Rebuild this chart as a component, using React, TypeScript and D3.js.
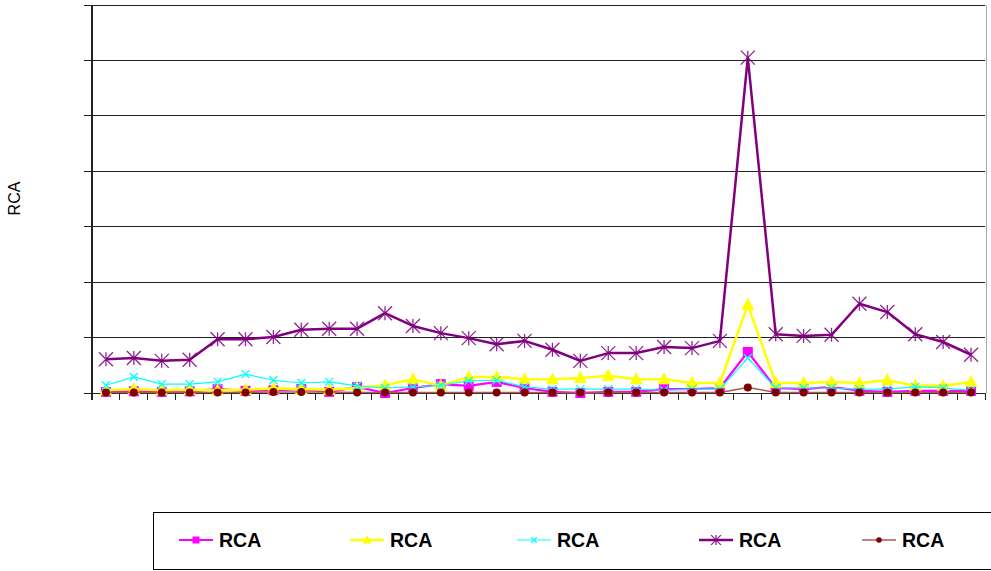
import React from 'react';
import * as d3 from 'd3';

// 32 categories, no labels shown on the x axis
const categories = d3.range(32).map(i => `c${i + 1}`);

const magentaValues = [0.02, 0.03, 0.02, 0.03, 0.07, 0.04, 0.05, 0.07, 0.02, 0.11, 0.0, 0.09, 0.16, 0.13, 0.2, 0.09,
  0.02, 0.0, 0.02, 0.02, 0.07, 0.07, 0.09, 0.74, 0.09, 0.07, 0.11, 0.04, 0.02, 0.04, 0.04, 0.04];
const yellowValues = [0.05, 0.07, 0.05, 0.06, 0.05, 0.06, 0.08, 0.07, 0.06, 0.09, 0.14, 0.25, 0.13, 0.29, 0.29, 0.25,
  0.25, 0.27, 0.31, 0.25, 0.25, 0.18, 0.18, 1.59, 0.18, 0.18, 0.2, 0.18, 0.23, 0.13, 0.13, 0.2];
const cyanValues = [0.14, 0.29, 0.16, 0.16, 0.2, 0.34, 0.23, 0.18, 0.2, 0.13, 0.09, 0.11, 0.14, 0.22, 0.23, 0.11,
  0.07, 0.07, 0.07, 0.07, 0.05, 0.07, 0.07, 0.63, 0.09, 0.09, 0.09, 0.07, 0.07, 0.11, 0.09, 0.05];
const purpleValues = [0.61, 0.63, 0.58, 0.6, 0.97, 0.97, 1.01, 1.14, 1.16, 1.16, 1.44, 1.21, 1.08, 0.99, 0.88, 0.94,
  0.78, 0.58, 0.72, 0.72, 0.83, 0.81, 0.94, 6.05, 1.06, 1.03, 1.05, 1.61, 1.46, 1.06, 0.92, 0.69];
const darkRedValues = [0.01, 0.01, 0.01, 0.01, 0.01, 0.01, 0.02, 0.02, 0.02, 0.01, 0.01, 0.01, 0.01, 0.01, 0.01, 0.01,
  0.01, 0.01, 0.01, 0.01, 0.01, 0.01, 0.01, 0.1, 0.01, 0.01, 0.01, 0.01, 0.01, 0.01, 0.01, 0.01];

const yTicks = [0, 1, 2, 3, 4, 5, 6, 7];
const legendLabels = ['RCA', 'RCA', 'RCA', 'RCA', 'RCA'];

type Series = { values: number[]; color: string; line: string; width: number; marker: string };

const series: Series[] = [
  { values: magentaValues, color: '#ff00ff', line: '#ff00ff', width: 2.2, marker: 'square' },
  { values: yellowValues, color: '#ffff00', line: '#ffff00', width: 2.5, marker: 'triangle' },
  { values: cyanValues, color: '#00ffff', line: '#00ffff', width: 1.2, marker: 'x' },
  { values: purpleValues, color: '#800080', line: '#800080', width: 2.5, marker: 'star' },
  { values: darkRedValues, color: '#800000', line: '#b05a50', width: 1.5, marker: 'dot' },
];

const Marker = ({ type, x, y, color, k = 1 }: { type: string; x: number; y: number; color: string; k?: number }) => {
  if (type === 'square') return <rect x={x - 5 * k} y={y - 5 * k} width={10 * k} height={10 * k} fill={color} />;
  if (type === 'triangle') return <path d={`M${x},${y - 7 * k}L${x + 6.5 * k},${y + 5 * k}L${x - 6.5 * k},${y + 5 * k}Z`} fill={color} />;
  if (type === 'x') {
    const s = 4 * k;
    return <path d={`M${x - s},${y - s}L${x + s},${y + s}M${x - s},${y + s}L${x + s},${y - s}`} stroke={color} strokeWidth={1.3} />;
  }
  if (type === 'star') {
    const s = 7 * k;
    return <path d={`M${x - s},${y - s}L${x + s},${y + s}M${x - s},${y + s}L${x + s},${y - s}M${x},${y - s}L${x},${y + s}`}
      stroke={color} strokeWidth={1.3} opacity={0.85} />;
  }
  return <circle cx={x} cy={y} r={4 * k} fill={color} />;
};

const App = () => {
  const left = 92, right = 985, top = 5, bottom = 393;
  const x = d3.scaleBand<string>().domain(categories).range([left, right]);
  const y = d3.scaleLinear().domain([0, 7]).range([bottom, top]);
  const cx = (i: number) => (x(categories[i]) as number) + x.bandwidth() / 2;

  const line = d3.line<number>().x((_, i) => cx(i)).y(d => y(d));

  const legendX = [196, 367, 534, 716, 879];

  return (
    <div style={{ position: 'absolute', left: 0, top: 0 }}>
      <svg width={991} height={571} style={{ display: 'block', fontFamily: 'Arial, "Liberation Sans", sans-serif' }}>
        <rect width={991} height={571} fill="#fff" />
        {/* grid */}
        {yTicks.map(t => (
          <line key={t} x1={left - 8} x2={right} y1={y(t)} y2={y(t)} stroke="#222" strokeWidth={1} shapeRendering="crispEdges" />
        ))}
        <line x1={right + 1} x2={right + 1} y1={top} y2={bottom} stroke="#aaa" strokeWidth={1} shapeRendering="crispEdges" />
        {/* axes */}
        <line x1={left} x2={left} y1={top} y2={bottom + 7} stroke="#222" strokeWidth={1.5} shapeRendering="crispEdges" />
        {categories.map(c => (
          <line key={c} x1={(x(c) as number) + x.bandwidth()} x2={(x(c) as number) + x.bandwidth()}
            y1={bottom} y2={bottom + 7} stroke="#222" strokeWidth={1} shapeRendering="crispEdges" />
        ))}
        <text transform={`translate(19.5,198.5) rotate(-90)`} textAnchor="middle" fontSize={16} fill="#000">RCA</text>

        {/* series */}
        {series.map((s, k) => (
          <g key={k}>
            <path d={line(s.values) || ''} fill="none" stroke={s.line} strokeWidth={s.width} strokeLinejoin="round" />
            {s.values.map((v, i) => (
              <Marker key={i} type={s.marker} x={cx(i)} y={y(v)} color={s.color} />
            ))}
          </g>
        ))}

        {/* legend */}
        <rect x={153.5} y={512.5} width={850} height={57} fill="#fff" stroke="#000" strokeWidth={1} />
        {series.map((s, k) => (
          <g key={k}>
            <line x1={legendX[k] - 17} x2={legendX[k] + 17} y1={540} y2={540} stroke={s.line} strokeWidth={s.width} />
            <Marker type={s.marker} x={legendX[k]} y={540} color={s.color} k={0.7} />
            <text x={legendX[k] + 23} y={547} fontSize={19.5} fontWeight="bold" fill="#000">{legendLabels[k]}</text>
          </g>
        ))}
      </svg>
    </div>
  );
};

export default App;
